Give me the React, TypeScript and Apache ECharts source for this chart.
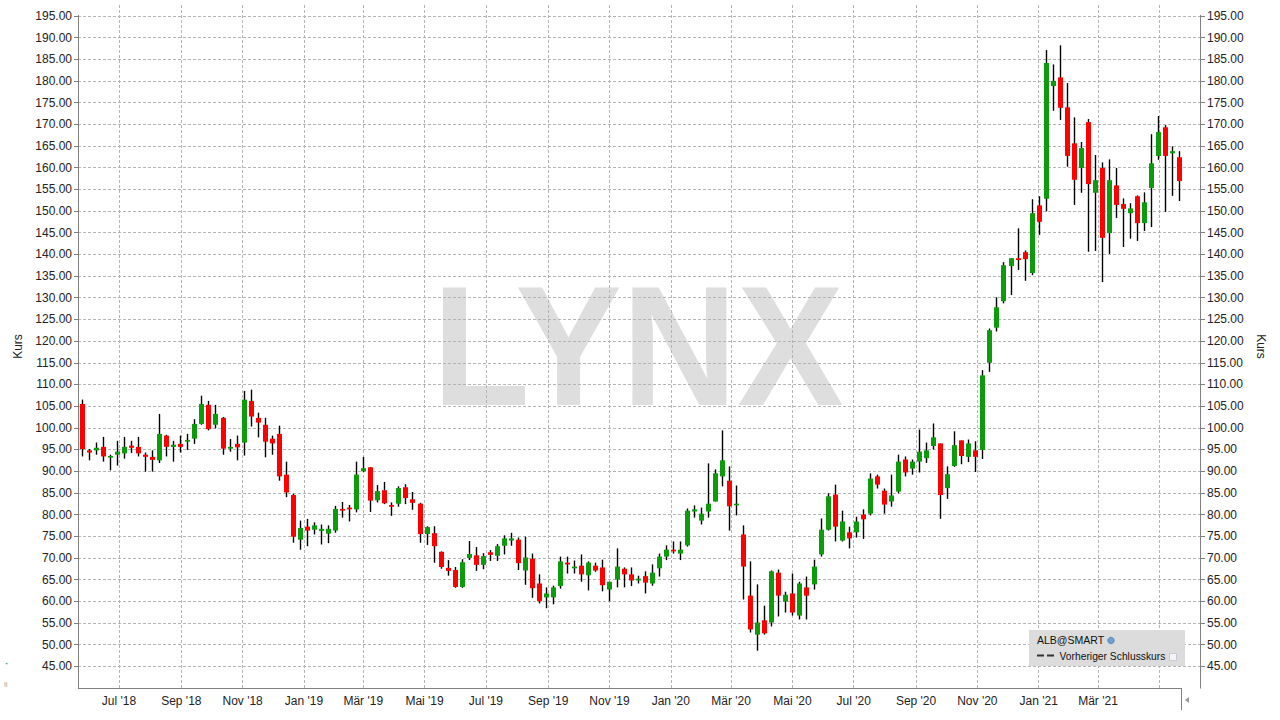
import React, { useEffect, useRef } from 'react';
import * as echarts from 'echarts';

// Weekly candles (ALB), first week ending Fri 25 May 2018
const firstWeek = Date.UTC(2018, 4, 25);
const WEEK = 7 * 86400000;

const opens = [
  105.5, 94.8, 94.8, 95.6, 93.2, 93.8, 94.1, 95.9, 95.6, 93.8,
  93.3, 92.5, 98.2, 95.6, 96.3, 96.8, 97.5, 100.9, 105.3, 100.7,
  102.3, 95.2, 96.3, 96.6, 106.2, 102.3, 100.7, 97.5, 98.6, 89.2,
  84.5, 74.2, 77.2, 76.5, 76.2, 75.6, 76.3, 81.3, 81.6, 81.2,
  90.0, 90.9, 83.3, 85.6, 82.2, 82.5, 86.3, 83.5, 82.5, 75.5,
  75.7, 71.4, 67.7, 67.2, 63.3, 70.0, 70.6, 68.4, 71.3, 70.5,
  72.8, 74.0, 74.2, 67.1, 69.8, 64.1, 60.9, 60.9, 63.5, 68.9,
  67.6, 68.2, 66.0, 68.2, 67.8, 62.7, 65.0, 67.5, 66.2, 64.8,
  65.8, 64.1, 67.6, 70.3, 71.9, 71.0, 72.9, 80.7, 78.6, 80.7,
  83.0, 88.8, 87.8, 82.2, 75.4, 61.3, 52.3, 55.6, 55.1, 66.6,
  59.9, 61.8, 56.7, 63.2, 63.9, 70.8, 76.5, 84.6, 74.0, 75.9,
  75.9, 80.0, 80.2, 88.8, 85.5, 83.0, 85.3, 92.7, 90.6, 92.2,
  93.0, 95.8, 96.4, 86.1, 91.2, 97.1, 93.3, 94.8, 94.9, 115.0,
  123.1, 129.2, 137.3, 139.1, 140.5, 135.7, 151.3, 152.8, 178.8, 180.8,
  173.9, 165.6, 159.9, 170.5, 154.2, 159.9, 144.9, 155.9, 151.6, 149.5,
  153.4, 147.2, 155.3, 162.7, 169.3, 163.3, 162.4
];
const closes = [
  95.1, 94.3, 95.4, 93.4, 93.5, 94.5, 95.6, 95.4, 94.1, 93.3,
  92.6, 98.6, 95.6, 96.1, 95.6, 97.2, 100.9, 105.5, 99.7, 103.2,
  95.2, 95.6, 95.5, 106.5, 102.6, 101.2, 96.8, 96.4, 88.8, 85.1,
  74.9, 76.9, 76.3, 77.5, 76.7, 76.7, 81.3, 80.9, 81.2, 89.2,
  90.7, 83.2, 85.4, 82.6, 81.8, 86.1, 83.8, 82.7, 75.5, 77.1,
  72.7, 67.9, 67.0, 63.3, 69.0, 70.9, 68.4, 70.4, 70.7, 72.7,
  74.5, 74.5, 68.8, 70.1, 63.0, 60.0, 61.8, 63.2, 69.2, 68.5,
  68.0, 66.2, 68.9, 67.1, 63.7, 64.5, 68.0, 66.2, 64.8, 65.2,
  64.3, 66.6, 70.3, 71.9, 71.5, 71.9, 80.9, 81.2, 80.2, 82.5,
  89.5, 92.5, 81.9, 82.5, 68.0, 53.5, 55.1, 52.6, 66.9, 61.3,
  61.5, 57.4, 64.1, 61.3, 68.0, 76.5, 84.2, 77.2, 78.4, 74.5,
  78.4, 78.9, 88.3, 86.9, 82.3, 84.4, 92.2, 89.7, 92.2, 94.5,
  94.8, 97.8, 84.5, 89.3, 96.0, 93.5, 96.4, 93.3, 112.1, 122.5,
  127.8, 137.5, 139.1, 138.7, 138.9, 149.5, 147.5, 184.1, 180.0, 173.8,
  162.7, 157.2, 164.5, 156.2, 157.1, 143.8, 157.1, 151.4, 150.5, 150.6,
  147.2, 152.0, 161.0, 168.2, 162.7, 163.8, 156.9
];
const lows = [
  93.4, 92.5, 93.8, 92.2, 90.2, 91.3, 92.9, 94.2, 93.4, 89.9,
  89.9, 91.9, 93.4, 92.2, 94.3, 94.9, 96.3, 100.7, 99.4, 99.9,
  93.8, 94.5, 92.5, 93.6, 100.3, 97.8, 93.2, 93.8, 87.8, 84.0,
  73.5, 71.9, 72.7, 75.4, 73.1, 73.4, 75.8, 79.3, 78.4, 80.5,
  89.8, 80.6, 82.8, 82.4, 79.7, 81.8, 82.4, 81.1, 73.5, 73.0,
  68.9, 67.5, 65.9, 63.1, 63.1, 69.5, 67.0, 67.4, 69.3, 69.3,
  70.8, 72.8, 67.2, 63.8, 60.8, 59.5, 58.4, 59.3, 62.9, 66.4,
  66.4, 64.5, 62.5, 66.8, 62.3, 60.0, 63.2, 63.2, 63.5, 64.1,
  61.8, 63.6, 65.7, 69.5, 71.0, 69.5, 72.6, 79.3, 77.7, 79.3,
  83.0, 86.5, 76.3, 79.8, 60.4, 52.8, 48.6, 52.3, 54.2, 56.5,
  57.4, 56.7, 55.8, 55.8, 62.7, 70.3, 76.3, 73.8, 73.8, 72.2,
  74.7, 74.4, 79.8, 86.0, 80.2, 81.8, 84.9, 88.8, 89.2, 89.7,
  91.9, 95.0, 79.0, 83.6, 91.0, 91.6, 92.1, 89.8, 92.8, 112.9,
  122.2, 128.7, 130.6, 136.4, 133.9, 135.2, 144.5, 149.9, 173.1, 171.0,
  160.2, 151.4, 154.2, 140.6, 140.8, 133.6, 140.1, 148.4, 141.7, 143.6,
  143.1, 145.4, 146.3, 161.8, 149.8, 153.5, 152.3
];
const highs = [
  106.5, 95.1, 96.6, 97.9, 93.8, 97.0, 97.9, 97.0, 97.9, 94.3,
  94.8, 103.2, 98.4, 97.0, 98.2, 98.6, 102.0, 107.4, 106.2, 105.3,
  102.5, 97.4, 98.2, 108.5, 108.8, 103.5, 102.3, 98.2, 100.5, 92.2,
  84.8, 78.6, 79.0, 78.2, 77.7, 77.5, 82.0, 82.9, 82.2, 92.2,
  93.3, 90.9, 86.8, 87.5, 82.8, 86.5, 87.0, 85.2, 82.7, 77.3,
  77.3, 71.5, 69.5, 67.9, 69.7, 73.9, 72.5, 71.1, 71.8, 73.2,
  75.2, 75.8, 74.7, 74.9, 71.0, 66.2, 63.2, 63.6, 70.3, 70.3,
  69.4, 70.8, 69.2, 68.9, 69.6, 64.5, 72.2, 67.8, 67.8, 65.9,
  66.9, 68.5, 71.0, 72.9, 73.8, 73.8, 81.4, 82.1, 81.6, 91.8,
  90.4, 99.4, 91.1, 86.7, 77.5, 69.2, 63.9, 59.0, 67.1, 67.3,
  62.2, 66.4, 64.5, 65.7, 69.6, 79.1, 84.9, 86.9, 80.9, 77.2,
  79.5, 81.2, 89.5, 89.2, 86.0, 89.2, 93.8, 93.4, 92.7, 99.6,
  96.6, 101.0, 96.4, 91.1, 99.2, 97.1, 97.3, 96.9, 113.3, 122.9,
  130.1, 138.2, 139.1, 146.0, 140.9, 152.7, 153.4, 187.1, 183.8, 188.2,
  179.5, 171.6, 165.9, 171.2, 162.9, 161.2, 161.9, 159.9, 152.9, 151.8,
  153.6, 154.3, 167.7, 171.9, 169.8, 164.9, 163.8
];

// Month gridlines (every second month) and their labels ('' = no label drawn)
const monthTicks = [
  '2018-07-01', '2018-09-01', '2018-11-01', '2019-01-01', '2019-03-01', '2019-05-01',
  '2019-07-01', '2019-09-01', '2019-11-01', '2020-01-01', '2020-03-01', '2020-05-01',
  '2020-07-01', '2020-09-01', '2020-11-01', '2021-01-01', '2021-03-01', '2021-05-01'
];
const monthLabels = [
  "Jul '18", "Sep '18", "Nov '18", "Jan '19", "Mär '19", "Mai '19",
  "Jul '19", "Sep '19", "Nov '19", "Jan '20", "Mär '20", "Mai '20",
  "Jul '20", "Sep '20", "Nov '20", "Jan '21", "Mär '21", ''
];
const yTicks = [
  45, 50, 55, 60, 65, 70, 75, 80, 85, 90, 95, 100, 105, 110, 115, 120,
  125, 130, 135, 140, 145, 150, 155, 160, 165, 170, 175, 180, 185, 190, 195
];

const GREEN = '#0b9b0b';
const RED = '#ff0000';
const GRID = '#b4b4b4';
const AXIS = '#808080';
const FONT = '"Liberation Sans", Arial, sans-serif';

export default function App() {
  const ref = useRef<HTMLDivElement>(null);
  useEffect(() => {
    const chart = echarts.init(ref.current as HTMLDivElement, null, { renderer: 'svg' });
    const data = opens.map((o, i) => [firstWeek + i * WEEK, o, closes[i], lows[i], highs[i]]);
    const tickTs = monthTicks.map((d) => Date.parse(d));
    const labelTs = tickTs.filter((_, i) => monthLabels[i] !== '');
    const yLabelStyle = { color: '#222', fontSize: 12, fontFamily: FONT };

    const option: any = {
      animation: false,
      backgroundColor: '#ffffff',
      grid: { left: 78, right: 79, top: 5, bottom: 32, containLabel: false },
      xAxis: {
        type: 'value',
        min: Date.UTC(2018, 4, 21, 5),
        max: Date.UTC(2021, 5, 11, 12),
        axisLine: { show: false },
        axisTick: { show: false, customValues: tickTs },
        axisLabel: {
          customValues: labelTs,
          margin: 7,
          color: '#222',
          fontSize: 12,
          fontFamily: FONT,
          formatter: (v: number) => {
            const idx = tickTs.indexOf(v);
            return idx >= 0 ? monthLabels[idx] : '';
          },
        },
        splitLine: { show: true, lineStyle: { type: [3, 2], color: GRID, width: 1 } },
      },
      yAxis: [
        {
          type: 'value',
          position: 'left',
          min: 40,
          max: 197.5,
          axisLine: { show: false },
          axisTick: { show: true, length: 4, customValues: yTicks, lineStyle: { color: AXIS } },
          axisLabel: { ...yLabelStyle, customValues: yTicks, margin: 6, formatter: (v: number) => v.toFixed(2) },
          splitLine: { show: true, lineStyle: { type: [3, 2], color: GRID, width: 1 } },
          name: 'Kurs',
          nameLocation: 'middle',
          nameGap: 50,
          nameTextStyle: { color: '#222', fontSize: 12, fontFamily: FONT },
        },
        {
          type: 'value',
          position: 'right',
          min: 40,
          max: 197.5,
          axisLine: { show: false },
          axisTick: { show: true, length: 4, customValues: yTicks, lineStyle: { color: AXIS } },
          axisLabel: { ...yLabelStyle, customValues: yTicks, margin: 6, formatter: (v: number) => v.toFixed(2) },
          splitLine: { show: false },
          name: 'Kurs',
          nameLocation: 'middle',
          nameGap: 48,
          nameRotate: -90,
          nameTextStyle: { color: '#222', fontSize: 12, fontFamily: FONT },
        },
      ],
      graphic: [
        {
          type: 'text',
          z: -1,
          x: 638,
          y: 346,
          scaleX: 0.94,
          silent: true,
          style: {
            text: 'LYNX',
            font: 'bold 170px "Liberation Sans", Arial, sans-serif',
            fill: '#dedede',
            textAlign: 'center',
            textVerticalAlign: 'middle',
          },
        },
        { type: 'line', z: 50, shape: { x1: 78.5, y1: 15, x2: 78.5, y2: 688.5 }, style: { stroke: AXIS, lineWidth: 1 } },
        { type: 'line', z: 50, shape: { x1: 1200.5, y1: 15, x2: 1200.5, y2: 688.5 }, style: { stroke: AXIS, lineWidth: 1 } },
        { type: 'line', z: 50, shape: { x1: 78, y1: 688.5, x2: 1182, y2: 688.5 }, style: { stroke: AXIS, lineWidth: 1 } },
        { type: 'line', z: 50, shape: { x1: 1181.5, y1: 688, x2: 1181.5, y2: 710 }, style: { stroke: AXIS, lineWidth: 1 } },
        { type: 'polygon', z: 50, shape: { points: [[1185, 700], [1189, 697], [1189, 703]] }, style: { fill: '#999' } },
        // legend box
        { type: 'rect', z: 100, shape: { x: 1029, y: 630, width: 156, height: 36 }, style: { fill: '#dcdcdc' } },
        {
          type: 'text', z: 101, x: 1037, y: 640,
          style: { text: 'ALB@SMART', font: '10.5px "Liberation Sans", Arial, sans-serif', fill: '#111', textVerticalAlign: 'middle' },
        },
        { type: 'circle', z: 101, shape: { cx: 1111, cy: 640.5, r: 3.3 }, style: { fill: '#6f9fd3', stroke: '#3d6fa8', lineWidth: 0.6 } },
        { type: 'line', z: 101, shape: { x1: 1037, y1: 655.5, x2: 1057, y2: 655.5 }, style: { stroke: '#333', lineWidth: 2, lineDash: [7, 3] } },
        {
          type: 'text', z: 101, x: 1059.5, y: 656,
          style: { text: 'Vorheriger Schlusskurs', font: '10.3px "Liberation Sans", Arial, sans-serif', fill: '#111', textVerticalAlign: 'middle' },
        },
        { type: 'rect', z: 101, shape: { x: 1169.5, y: 653.5, width: 7, height: 7 }, style: { fill: '#f4f4f8', stroke: '#c8c8d0', lineWidth: 1 } },
        // small icons bottom-left
        { type: 'text', x: 5, y: 665, style: { text: 'ᐩ', font: '8px sans-serif', fill: '#1a9a3a', textVerticalAlign: 'middle' } },
        { type: 'text', x: 4, y: 684, style: { text: 'li', font: '8px sans-serif', fill: '#aaa', textVerticalAlign: 'middle' } },
      ],
      series: [
        {
          type: 'custom',
          data,
          encode: { x: 0, y: [1, 2, 3, 4] },
          renderItem: (_params: any, api: any) => {
            const x = api.value(0);
            const o = api.value(1);
            const c = api.value(2);
            const l = api.value(3);
            const h = api.value(4);
            const pH = api.coord([x, h]);
            const pL = api.coord([x, l]);
            const pO = api.coord([x, o]);
            const pC = api.coord([x, c]);
            const cx = Math.round(pH[0]) + 0.5;
            const bw = 5;
            const top = Math.min(pO[1], pC[1]);
            const hgt = Math.max(1.6, Math.abs(pO[1] - pC[1]));
            return {
              type: 'group',
              children: [
                { type: 'line', shape: { x1: cx, y1: pH[1], x2: cx, y2: pL[1] }, style: { stroke: '#000', lineWidth: 1.4 } },
                { type: 'rect', shape: { x: cx - bw / 2, y: top, width: bw, height: hgt }, style: { fill: c >= o ? GREEN : RED, lineWidth: 0 } },
              ],
            };
          },
        },
      ],
    };
    chart.setOption(option);
    return () => chart.dispose();
  }, []);
  return <div ref={ref} style={{ position: 'fixed', left: 0, top: 0, width: 1280, height: 720, background: '#fff' }} />;
}
